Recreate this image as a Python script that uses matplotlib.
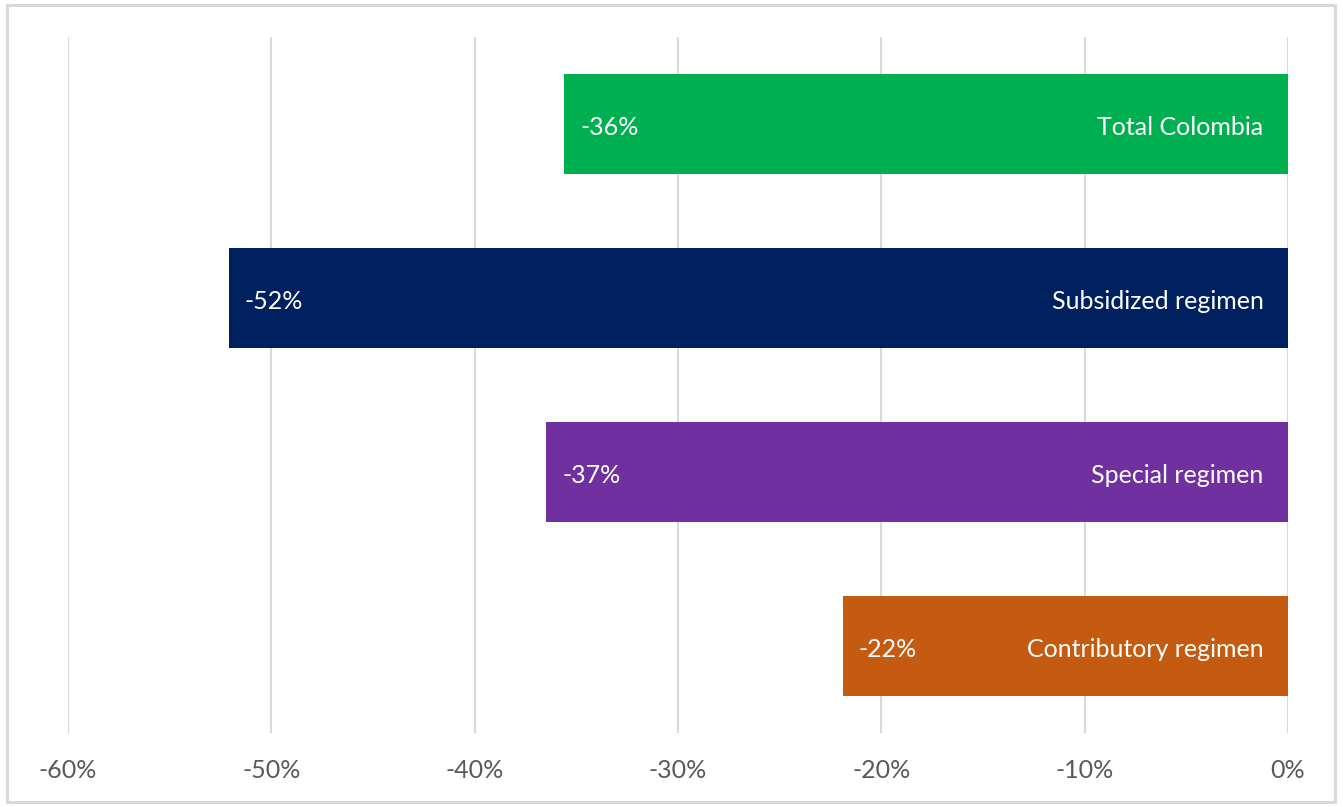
import matplotlib.pyplot as plt
from matplotlib.patches import Rectangle
from matplotlib.ticker import FuncFormatter

plt.rcParams['font.family'] = ['Lato', 'DejaVu Sans']

categories = ['Total Colombia', 'Subsidized regimen', 'Special regimen', 'Contributory regimen']
values = [-0.356, -0.521, -0.365, -0.219]
labels = ['-36%', '-52%', '-37%', '-22%']
colors = ['#00B050', '#002060', '#7030A0', '#C55A11']

fig = plt.figure(figsize=(13.43, 8.07), dpi=100)
# light grey frame around the chart
fig.patches.append(Rectangle((0.005, 0.006), 0.989, 0.988, transform=fig.transFigure,
                             fill=False, edgecolor='#D9D9D9', linewidth=2.2))

ax = fig.add_axes([68 / 1343, 1 - 733 / 807, 1220 / 1343, 696 / 807])

ypos = list(range(len(categories)))
ax.barh(ypos, values, height=0.57, color=colors, zorder=2)

for y, v, lab, cat in zip(ypos, values, labels, categories):
    ax.text(v + 0.008, y + 0.02, lab, color='white', fontsize=18, va='center', ha='left', zorder=3)
    ax.text(-0.012, y + 0.02, cat, color='white', fontsize=18, va='center', ha='right', zorder=3)

ax.set_xlim(-0.6, 0)
ax.set_ylim(3.5, -0.5)
ax.set_xticks([-0.6, -0.5, -0.4, -0.3, -0.2, -0.1, 0])
ax.xaxis.set_major_formatter(FuncFormatter(lambda x, p: '{:.0f}%'.format(x * 100)))
ax.set_yticks([])
ax.grid(axis='x', color='#D9D9D9', linewidth=1.5, zorder=0)
ax.tick_params(axis='x', length=0, pad=19, labelsize=18, labelcolor='#595959')
for s in ax.spines.values():
    s.set_visible(False)

fig.savefig('out.png', dpi=100)
